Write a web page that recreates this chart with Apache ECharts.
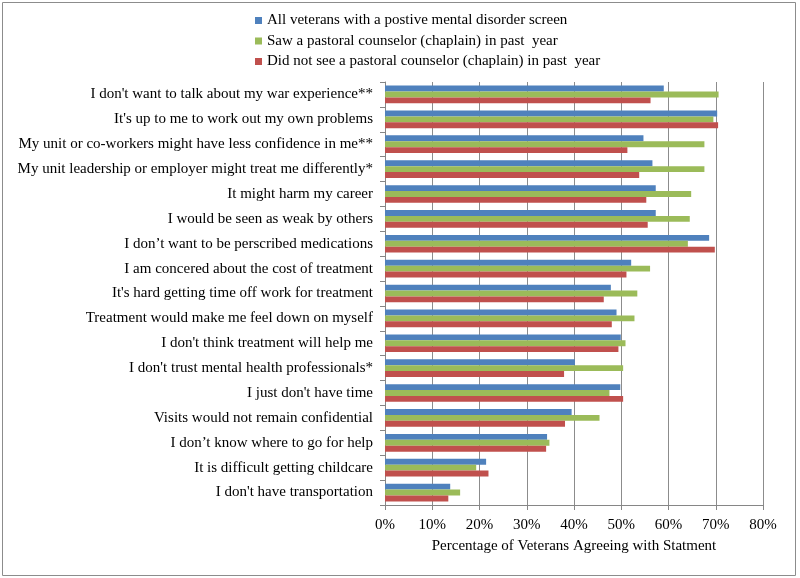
<!DOCTYPE html>
<html>
<head>
<meta charset="utf-8">
<script src="https://cdn.jsdelivr.net/npm/echarts@6/dist/echarts.min.js"></script>
<style>
  html, body { margin: 0; padding: 0; background: #fff; }
  #chart { width: 800px; height: 578px; }
</style>
</head>
<body>
<div id="chart"></div>
<script>
// barriers to care, top to bottom as in the picture
const categories = [
  "I don't want to talk about my war experience**",
  "It's up to me to work out my own problems",
  "My unit or co-workers might have less confidence in me**",
  "My unit leadership or employer might treat me differently*",
  "It might harm my career",
  "I would be seen as weak by others",
  "I don\u2019t want to be perscribed medications",
  "I am concered about the cost of treatment",
  "It's hard getting time off work for treatment",
  "Treatment would make me feel down on myself",
  "I don't think treatment will help me",
  "I don't trust mental health professionals*",
  "I just don't have time",
  "Visits would not remain confidential",
  "I don\u2019t know where to go for help",
  "It is difficult getting childcare",
  "I don't have transportation"
];

const seriesNames = [
  'All veterans with a postive mental disorder screen',
  'Saw a pastoral counselor (chaplain) in past  year',
  'Did not see a pastoral counselor (chaplain) in past  year'
];

const allVeterans = [59.0, 70.3, 54.7, 56.6, 57.3, 57.3, 68.6, 52.1, 47.8, 49.0, 49.9, 40.2, 49.8, 39.5, 34.3, 21.4, 13.8];
const sawChaplain = [70.6, 69.5, 67.6, 67.6, 64.8, 64.5, 64.1, 56.1, 53.4, 52.8, 50.9, 50.4, 47.5, 45.4, 34.8, 19.3, 15.9];
const noChaplain  = [56.2, 70.5, 51.3, 53.8, 55.3, 55.6, 69.8, 51.1, 46.3, 48.0, 49.4, 37.9, 50.4, 38.1, 34.1, 21.9, 13.4];

const colors = ['#4F81BD', '#9BBB59', '#C0504D'];
const font = '"Liberation Serif", "DejaVu Serif", serif';

const chart = echarts.init(document.getElementById('chart'));

const makeSeries = (name, data, i) => ({
  name: name,
  type: 'bar',
  data: data,
  barGap: '0%',
  barCategoryGap: '29%',
  itemStyle: { color: colors[i] },
  animation: false
});

chart.setOption({
  textStyle: { fontFamily: font },
  graphic: [{
    type: 'rect',
    shape: { x: 2.5, y: 2.5, width: 793, height: 573 },
    style: { fill: 'none', stroke: '#8c8c8c', lineWidth: 1 },
    silent: true
  }],
  legend: {
    orient: 'vertical',
    left: 255,
    top: 13,
    padding: 0,
    itemWidth: 7,
    itemHeight: 7,
    itemGap: 5.5,
    icon: 'rect',
    textStyle: { fontFamily: font, fontSize: 15, lineHeight: 15, color: '#000' },
    data: seriesNames
  },
  grid: {
    left: 385,
    right: 37,
    top: 82,
    bottom: 73
  },
  xAxis: {
    type: 'value',
    min: 0,
    max: 80,
    interval: 10,
    name: 'Percentage of Veterans Agreeing with Statment',
    nameLocation: 'middle',
    nameGap: 34,
    nameTextStyle: { fontFamily: font, fontSize: 15, color: '#000' },
    axisLine: { show: true, lineStyle: { color: '#868686' } },
    axisTick: { show: true, length: 5, lineStyle: { color: '#868686' } },
    axisLabel: { formatter: '{value}%', fontFamily: font, fontSize: 15, color: '#000', margin: 13 },
    splitLine: { show: true, lineStyle: { color: '#8c8c8c' } }
  },
  yAxis: {
    type: 'category',
    inverse: true,
    data: categories,
    axisLine: { show: true, lineStyle: { color: '#868686' } },
    axisTick: { show: true, length: 5, lineStyle: { color: '#868686' } },
    axisLabel: { fontFamily: font, fontSize: 15, color: '#000', margin: 12, padding: [3, 0, 0, 0] }
  },
  series: [
    makeSeries(seriesNames[0], allVeterans, 0),
    makeSeries(seriesNames[1], sawChaplain, 1),
    makeSeries(seriesNames[2], noChaplain, 2)
  ]
});
</script>
</body>
</html>
